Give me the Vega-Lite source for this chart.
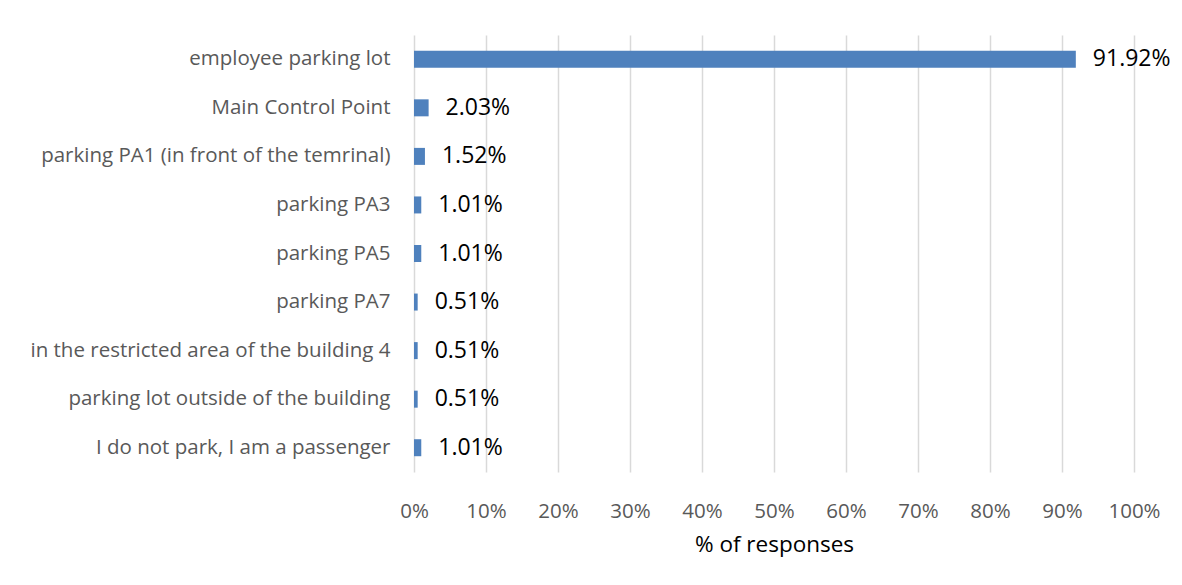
{
  "$schema": "https://vega.github.io/schema/vega-lite/v6.json",
  "autosize": {"type": "none"},
  "padding": {"left": 414, "top": 35, "right": 48, "bottom": 113},
  "width": 720,
  "height": 437,
  "background": "white",
  "config": {"view": {"stroke": null}, "font": "Open Sans"},
  "data": {"values": [
    {"location": "employee parking lot", "share": 0.9192},
    {"location": "Main Control Point", "share": 0.0203},
    {"location": "parking PA1 (in front of the temrinal)", "share": 0.0152},
    {"location": "parking PA3", "share": 0.0101},
    {"location": "parking PA5", "share": 0.0101},
    {"location": "parking PA7", "share": 0.0051},
    {"location": "in the restricted area of the building 4", "share": 0.0051},
    {"location": "parking lot outside of the building", "share": 0.0051},
    {"location": "I do not park, I am a passenger", "share": 0.0101}
  ]},
  "encoding": {
    "y": {"field": "location", "type": "nominal", "sort": null,
      "scale": {"paddingInner": 0.65, "paddingOuter": 0.325},
      "axis": {"title": null, "domain": false, "ticks": false, "labelPadding": 24,
        "labelFontSize": 20.5, "labelColor": "#595959", "labelFont": "Open Sans", "labelLimit": 500}},
    "x": {"field": "share", "type": "quantitative",
      "scale": {"domain": [0, 1], "nice": false},
      "axis": {"title": "% of responses", "format": ".0%", "values": [0,0.1,0.2,0.3,0.4,0.5,0.6,0.7,0.8,0.9,1],
        "grid": true, "gridColor": "#d9d9d9", "gridWidth": 1.5, "domain": false, "ticks": false,
        "labelFlush": false, "labelOverlap": false,
        "labelPadding": 29, "labelFontSize": 20.5, "labelColor": "#595959", "labelFont": "Open Sans",
        "titleFontSize": 22.5, "titleColor": "#000000", "titleFontWeight": "normal", "titlePadding": 12, "titleFont": "Open Sans"}}
  },
  "layer": [
    {"mark": {"type": "bar", "color": "#4f81bd"}},
    {"mark": {"type": "text", "align": "left", "baseline": "middle", "dx": 17, "fontSize": 23, "color": "#000000", "font": "Open Sans"},
     "encoding": {"text": {"field": "share", "type": "quantitative", "format": ".2%"}}}
  ]
}
